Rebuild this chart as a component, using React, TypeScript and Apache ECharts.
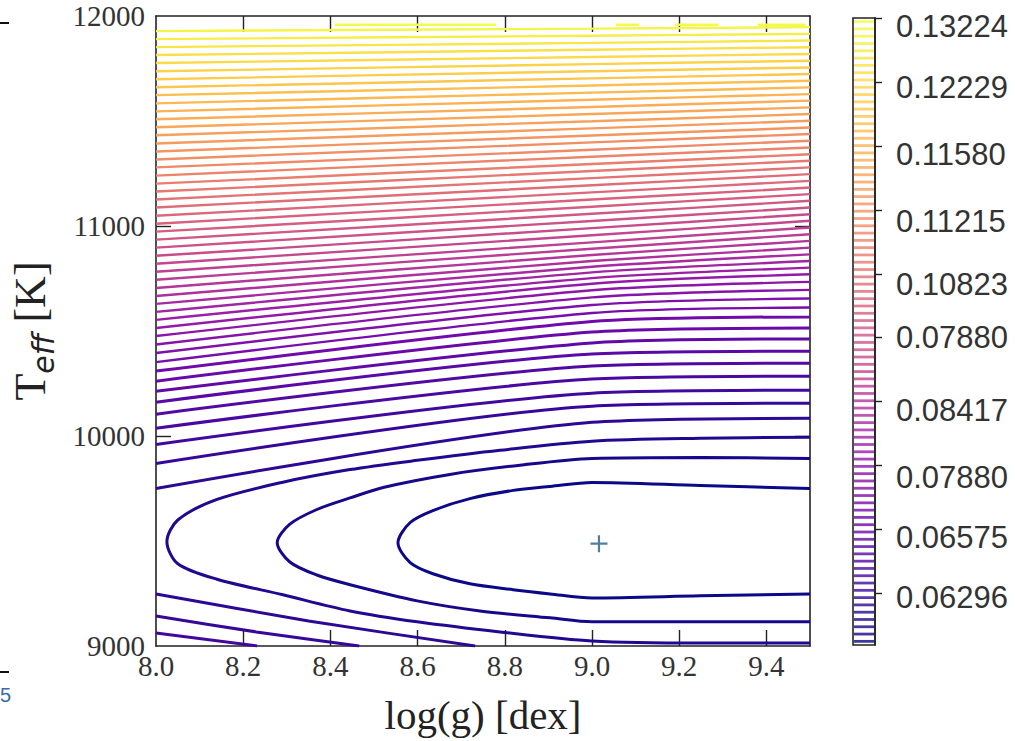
import { useEffect, useRef } from "react";
import * as echarts from "echarts";

// ---------------- data ----------------
const loggLabels = [8.0, 8.2, 8.4, 8.6, 8.8, 9.0, 9.2, 9.4];
const loggInnerTicks = [8.2, 8.4, 8.6, 8.8, 9.0, 9.2, 9.4];
const teffLabels = [9000, 10000, 11000, 12000];
const teffInnerTicks = [10000, 11000];

// open contours (levels 4..54): Teff where each crosses log g = 8.0, 9.0, 9.5
const contourLoggNodes = [8.0, 9.0, 9.5];
const firstOpenLevel = 4;
const teffAtLogg80 = [9750, 9869, 9960, 10037, 10104, 10161, 10213, 10261, 10309, 10352, 10395, 10436, 10476, 10514, 10553, 10591, 10629, 10667, 10705, 10744, 10782, 10820, 10858, 10897, 10935, 10973, 11011, 11049, 11088, 11126, 11164, 11202, 11240, 11279, 11317, 11355, 11393, 11432, 11470, 11508, 11546, 11584, 11623, 11661, 11699, 11737, 11776, 11814, 11852, 11890, 11928];
const teffAtLogg90 = [10065, 10142, 10204, 10271, 10333, 10390, 10443, 10495, 10545, 10586, 10624, 10660, 10694, 10725, 10752, 10779, 10806, 10833, 10862, 10892, 10922, 10956, 10990, 11024, 11058, 11092, 11126, 11160, 11194, 11228, 11262, 11295, 11330, 11363, 11398, 11431, 11465, 11499, 11533, 11567, 11601, 11635, 11669, 11703, 11737, 11771, 11805, 11839, 11872, 11906, 11940];
const teffAtLogg95 = [10084, 10156, 10218, 10285, 10347, 10404, 10462, 10514, 10567, 10612, 10655, 10696, 10734, 10770, 10802, 10833, 10865, 10897, 10929, 10961, 10993, 11025, 11056, 11088, 11120, 11152, 11183, 11215, 11247, 11279, 11311, 11342, 11374, 11406, 11438, 11469, 11501, 11533, 11565, 11597, 11628, 11660, 11692, 11724, 11755, 11787, 11819, 11851, 11883, 11915, 11947];

// closed (C-shaped) contours around the minimum, levels 1..3: [log g, Teff]
const level1Ring = [[9.5, 9750], [9.248, 9764], [9.0, 9779], [8.904, 9760], [8.819, 9741], [8.72, 9702], [8.635, 9645], [8.583, 9588], [8.555, 9492], [8.583, 9397], [8.635, 9344], [8.72, 9296], [8.819, 9268], [8.904, 9248], [9.0, 9229], [9.248, 9239], [9.5, 9248]];
const level2Ring = [[9.5, 9893], [9.248, 9898], [9.0, 9893], [8.835, 9861], [8.674, 9817], [8.521, 9755], [8.445, 9705], [8.369, 9650], [8.307, 9580], [8.278, 9492], [8.307, 9400], [8.369, 9338], [8.445, 9292], [8.599, 9215], [8.743, 9167], [8.904, 9134], [9.0, 9115], [9.248, 9115], [9.5, 9115]];
const level3Ring = [[9.5, 9994], [9.248, 9989], [9.0, 9975], [8.789, 9932], [8.599, 9884], [8.445, 9840], [8.291, 9780], [8.14, 9698], [8.05, 9600], [8.025, 9497], [8.05, 9392], [8.14, 9318], [8.291, 9244], [8.445, 9167], [8.599, 9115], [8.789, 9067], [9.0, 9024], [9.248, 9014], [9.5, 9014]];

// lower branches of levels 4..6 (leave through the bottom axis)
const level4Lower = [[8.0, 9248], [8.35, 9119], [8.732, 9000]];
const level5Lower = [[8.0, 9143], [8.23, 9067], [8.466, 9000]];
const level6Lower = [[8.0, 9062], [8.232, 9000]];

// broken top-most contour (level 55)
const topPartialTeff = 11958;
const topPartialSpans = [[8.41, 8.78], [9.055, 9.108], [9.19, 9.29], [9.38, 9.49]];

const bestFit = [9.016, 9487];

const levelCount = 55;
const colorbarStripeCount = 86;
const colorbarTickPos = [7.13, 15.91, 24.69, 33.47, 42.25, 50.89, 59.67, 68.44, 77.22, 86];
const colorbarLabelPos = [6.58, 14.68, 23.04, 32.23, 42.11, 49.38, 58.02, 67.21, 76.4, 84.77];
const colorbarLabels = ["0.06296", "0.06575", "0.07880", "0.08417", "0.07880", "0.10823", "0.11215", "0.11580", "0.12229", "0.13224"];

// ---------------- styling helpers ----------------
const PLASMA_STOPS = ["#0d0887", "#41049d", "#6a00a8", "#8f0da4", "#b12a90", "#cc4778", "#e16462", "#f2844b", "#fca636", "#fcce25", "#f0f921"];
function hexToRgb(h: string) {
  return [parseInt(h.slice(1, 3), 16), parseInt(h.slice(3, 5), 16), parseInt(h.slice(5, 7), 16)];
}
function plasma(t: number, lighten = 0) {
  const x = Math.max(0, Math.min(1, t)) * (PLASMA_STOPS.length - 1);
  const i = Math.min(PLASMA_STOPS.length - 2, Math.floor(x));
  const f = x - i;
  const a = hexToRgb(PLASMA_STOPS[i]);
  const b = hexToRgb(PLASMA_STOPS[i + 1]);
  const c = a.map((v, j) => {
    const m = v + (b[j] - v) * f;
    return Math.round(m + (255 - m) * lighten);
  });
  return `rgb(${c[0]},${c[1]},${c[2]})`;
}
const levelColor = (k: number) => {
  const t = (k - 1) / (levelCount - 1);
  return plasma(t, 0.18 * t);
};

const AX = "#222";
const SERIF = "Liberation Serif";

function contourSeries(data: any[], level: number, smooth = 0.25) {
  return {
    type: "line",
    xAxisIndex: 0,
    yAxisIndex: 0,
    data,
    symbol: "none",
    smooth,
    silent: true,
    lineStyle: { color: levelColor(level), width: level <= 12 ? 3 : 2.4 },
    z: 2,
  };
}

export default function App() {
  const ref = useRef<HTMLDivElement>(null);
  useEffect(() => {
    if (!ref.current) return;
    const chart = echarts.init(ref.current, null, { renderer: "svg" });

    const series: any[] = [];
    series.push(contourSeries(level1Ring, 1, 0.3));
    series.push(contourSeries(level2Ring, 2, 0.3));
    series.push(contourSeries(level3Ring, 3, 0.3));
    series.push(contourSeries(level4Lower, 4, 0.2));
    series.push(contourSeries(level5Lower, 5, 0.2));
    series.push(contourSeries(level6Lower, 6, 0.2));
    teffAtLogg80.forEach((_, j) => {
      const data = [
        [contourLoggNodes[0], teffAtLogg80[j]],
        [contourLoggNodes[1], teffAtLogg90[j]],
        [contourLoggNodes[2], teffAtLogg95[j]],
      ];
      series.push(contourSeries(data, firstOpenLevel + j, 0.25));
    });
    topPartialSpans.forEach((s) => {
      series.push(contourSeries([[s[0], topPartialTeff], [s[1], topPartialTeff]], levelCount, 0));
    });
    series.push({
      type: "scatter",
      xAxisIndex: 0,
      yAxisIndex: 0,
      data: [bestFit],
      symbol: "path://M-1.3,-10L1.3,-10L1.3,-1.3L10,-1.3L10,1.3L1.3,1.3L1.3,10L-1.3,10L-1.3,1.3L-10,1.3L-10,-1.3L-1.3,-1.3Z",
      symbolSize: 17,
      itemStyle: { color: "#245f85" },
      silent: true,
      z: 5,
    });
    const stripes: any[] = [];
    for (let i = 0; i < colorbarStripeCount; i++) {
      const t = i / (colorbarStripeCount - 1);
      stripes.push({ value: [0.5, i + 0.5], itemStyle: { color: plasma(t, 0.18 * t) } });
    }
    series.push({
      type: "scatter",
      xAxisIndex: 2,
      yAxisIndex: 2,
      data: stripes,
      symbol: "rect",
      symbolSize: [20, 2.8],
      silent: true,
    });

    const tickLine = { color: AX, width: 1.4 };
    const axisLine = { show: true, onZero: false, lineStyle: { color: AX, width: 1.6 } };

    chart.setOption({
      animation: false,
      backgroundColor: "#ffffff",
      grid: [
        { left: 156, top: 16, width: 654, height: 630, outerBoundsMode: "none", containLabel: false },
        { left: 853, top: 18, width: 22, height: 627, outerBoundsMode: "none", containLabel: false, show: true, borderColor: AX, borderWidth: 1.6 },
      ],
      xAxis: [
        {
          gridIndex: 0,
          type: "value",
          min: 8,
          max: 9.5,
          position: "bottom",
          axisLine,
          axisTick: { show: true, inside: true, length: 16, customValues: loggInnerTicks, lineStyle: tickLine },
          axisLabel: {
            customValues: loggLabels,
            formatter: (v: number) => v.toFixed(1),
            fontFamily: SERIF,
            fontSize: 29,
            color: "#333",
            margin: 5,
          },
          splitLine: { show: false },
          name: "log(g) [dex]",
          nameLocation: "middle",
          nameGap: 48,
          nameTextStyle: { fontFamily: SERIF, fontSize: 41, color: AX },
        },
        {
          gridIndex: 0,
          type: "value",
          min: 8,
          max: 9.5,
          position: "top",
          axisLine,
          axisTick: { show: true, inside: true, length: 16, customValues: loggInnerTicks, lineStyle: tickLine },
          axisLabel: { show: false },
          splitLine: { show: false },
        },
        { gridIndex: 1, type: "value", min: 0, max: 1, show: false },
      ],
      yAxis: [
        {
          gridIndex: 0,
          type: "value",
          min: 9000,
          max: 12000,
          interval: 1000,
          position: "left",
          axisLine,
          axisTick: { show: true, inside: true, length: 15, customValues: teffInnerTicks, lineStyle: tickLine },
          axisLabel: {
            customValues: teffLabels,
            formatter: (v: number) => String(Math.round(v)),
            fontFamily: SERIF,
            fontSize: 29,
            color: "#333",
            margin: 11,
          },
          splitLine: { show: false },
          name: "{t|T}{s|eff}{t| [K]}",
          nameLocation: "middle",
          nameRotate: 90,
          nameGap: 98,
          nameTextStyle: {
            rich: {
              t: { fontFamily: SERIF, fontSize: 44, color: AX },
              s: { fontFamily: "DejaVu Sans", fontStyle: "italic", fontSize: 30, color: AX, padding: [26, 0, 0, 0] },
            },
          },
        },
        {
          gridIndex: 0,
          type: "value",
          min: 9000,
          max: 12000,
          interval: 1000,
          position: "right",
          axisLine,
          axisTick: { show: true, inside: true, length: 15, customValues: teffInnerTicks, lineStyle: tickLine },
          axisLabel: { show: false },
          splitLine: { show: false },
        },
        {
          gridIndex: 1,
          type: "value",
          min: 0,
          max: colorbarStripeCount,
          position: "right",
          axisLine,
          axisTick: { show: true, inside: false, length: 7, customValues: colorbarTickPos, lineStyle: tickLine },
          axisLabel: {
            customValues: colorbarLabelPos,
            formatter: (v: number) => {
              let best = 0;
              colorbarLabelPos.forEach((p, i) => {
                if (Math.abs(p - v) < Math.abs(colorbarLabelPos[best] - v)) best = i;
              });
              return colorbarLabels[best];
            },
            fontFamily: "Liberation Sans",
            fontSize: 31,
            color: "#333",
            margin: 21,
          },
          splitLine: { show: false },
        },
      ],
      graphic: [
        { type: "line", shape: { x1: 0, y1: 23, x2: 9, y2: 23 }, style: { stroke: "#111", lineWidth: 2 } },
        { type: "line", shape: { x1: 0, y1: 672, x2: 9, y2: 672 }, style: { stroke: "#111", lineWidth: 2 } },
        { type: "text", x: 0, y: 685, style: { text: "5", fontSize: 20, fill: "#3a6aa8", fontFamily: "Liberation Sans" } },
      ],
      series,
    });
    return () => chart.dispose();
  }, []);
  return <div ref={ref} style={{ position: "fixed", left: 0, top: 0, width: 1015, height: 741, background: "#fff" }} />;
}
